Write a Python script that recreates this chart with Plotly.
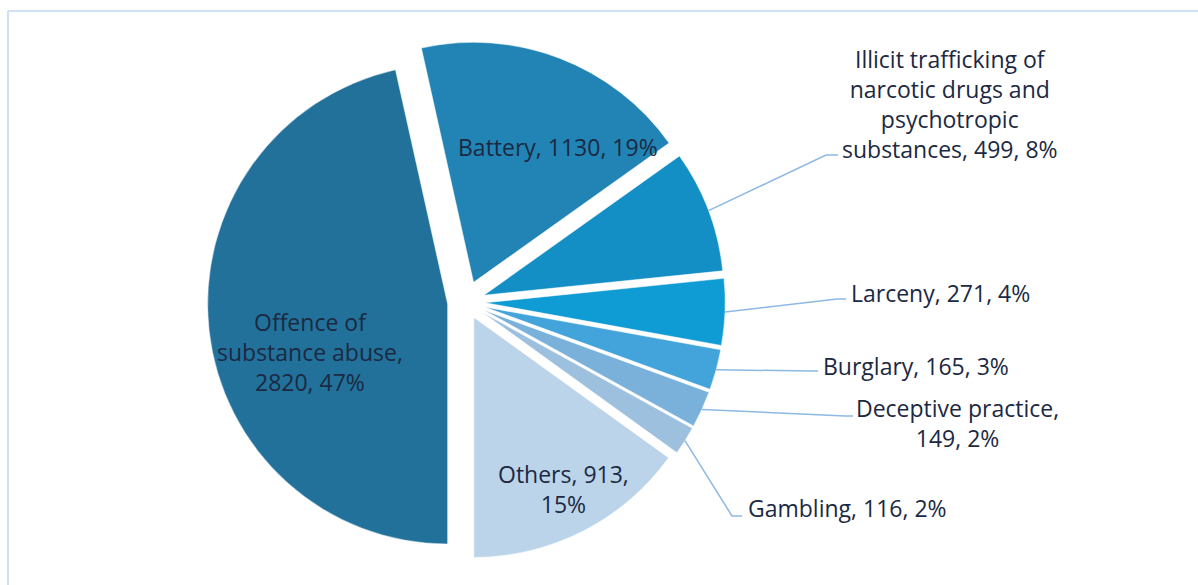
import math
import plotly.graph_objects as go

# ---- data -------------------------------------------------------------
categories = [
    "Offence of substance abuse",
    "Battery",
    "Illicit trafficking of narcotic drugs and psychotropic substances",
    "Larceny",
    "Burglary",
    "Deceptive practice",
    "Gambling",
    "Others",
]
counts = [2820, 1130, 499, 271, 165, 149, 116, 913]

# category names as they are wrapped in the data labels
label_names = [
    "Offence of<br>substance abuse,<br>",
    "Battery, ",
    "Illicit trafficking of<br>narcotic drugs and<br>psychotropic<br>substances, ",
    "Larceny, ",
    "Burglary, ",
    "Deceptive practice,<br>",
    "Gambling, ",
    "Others, ",
]
# break between value and percentage (only "Others" wraps there)
value_sep = [", ", ", ", ", ", ", ", ", ", ", ", ", ", ",<br>"]

# ---- style ------------------------------------------------------------
colors = ["#22719b", "#2284b4", "#148fc6", "#0f9bd4",
          "#43a4db", "#79b1da", "#9cc0dd", "#bcd4e9"]
pulls = [0.077, 0.088, 0.08, 0.08, 0.08, 0.08, 0.08, 0.072]
TEXT = "#1b2942"
LEADER = "#8db9e3"
FONT = "Open Sans"
FSIZE = 23

W, H = 1198, 585
CX, CY, R = 466, 302, 240          # pie centre and radius in pixels


def px(x):
    return x / W


def py(y):
    return 1 - y / H


half = R * (1 + max(pulls))
domain_x = [(CX - half) / W, (CX + half) / W]
domain_y = [1 - (CY + half) / H, 1 - (CY - half) / H]

total = sum(counts)
pcts = [round(100 * v / total) for v in counts]
texts = [f"{n}{v}{s}{p}%" for n, v, s, p in zip(label_names, counts, value_sep, pcts)]

# mid-angle of each slice (degrees clockwise from 12 o'clock, first slice at 6 o'clock)
START = 180
mids = []
acc = START
for v in counts:
    span = 360 * v / total
    mids.append(acc + span / 2)
    acc += span

fig = go.Figure(go.Pie(
    labels=categories,
    values=counts,
    sort=False,
    direction="clockwise",
    rotation=START,
    pull=pulls,
    marker=dict(colors=colors, line=dict(color="white", width=0.5)),
    textinfo="none",
    hoverinfo="label+value+percent",
    domain=dict(x=domain_x, y=domain_y),
    showlegend=False,
))

# label placement: (x, y, xanchor, elbow, end) in pixels; elbow/end only for leader lines
placement = [
    (310, 352, "center", None, None),
    (558, 147, "center", None, None),
    (950, 104, "center", (826, 155), (838, 155)),
    (849, 293, "left", (837, 299), (846, 299)),
    (821, 366, "left", (812, 371), (818, 371)),
    (957, 423, "center", (845, 416), (853, 416)),
    (746, 508, "left", (732, 516), (742, 516)),
    (563, 489, "center", None, None),
]

annotations = []
shapes = []
for i, (x, y, xa, elbow, end) in enumerate(placement):
    annotations.append(dict(
        x=px(x), y=py(y), xref="paper", yref="paper",
        text=texts[i], showarrow=False, xanchor=xa, yanchor="middle",
        align="center", font=dict(family=FONT, size=FSIZE, color=TEXT),
    ))
    if elbow is not None:
        th = math.radians(mids[i])
        rr = R * (1 + pulls[i])
        sx = CX + rr * math.sin(th)
        sy = CY - rr * math.cos(th)
        path = (f"M {px(sx)} {py(sy)} L {px(elbow[0])} {py(elbow[1])} "
                f"L {px(end[0])} {py(end[1])}")
        shapes.append(dict(type="path", path=path, xref="paper", yref="paper",
                           line=dict(color=LEADER, width=1.5)))

# chart-area frame (top and left edges visible)
BORDER = "#cfe0f3"
shapes.append(dict(type="line", xref="paper", yref="paper",
                   x0=px(8), y0=py(11), x1=1.0, y1=py(11),
                   line=dict(color=BORDER, width=2)))
shapes.append(dict(type="line", xref="paper", yref="paper",
                   x0=px(8), y0=py(11), x1=px(8), y1=0.0,
                   line=dict(color=BORDER, width=2)))

fig.update_layout(
    width=W, height=H,
    margin=dict(l=0, r=0, t=0, b=0),
    paper_bgcolor="white",
    plot_bgcolor="white",
    annotations=annotations,
    shapes=shapes,
    font=dict(family=FONT, size=FSIZE, color=TEXT),
)

fig.write_html("out.html")
